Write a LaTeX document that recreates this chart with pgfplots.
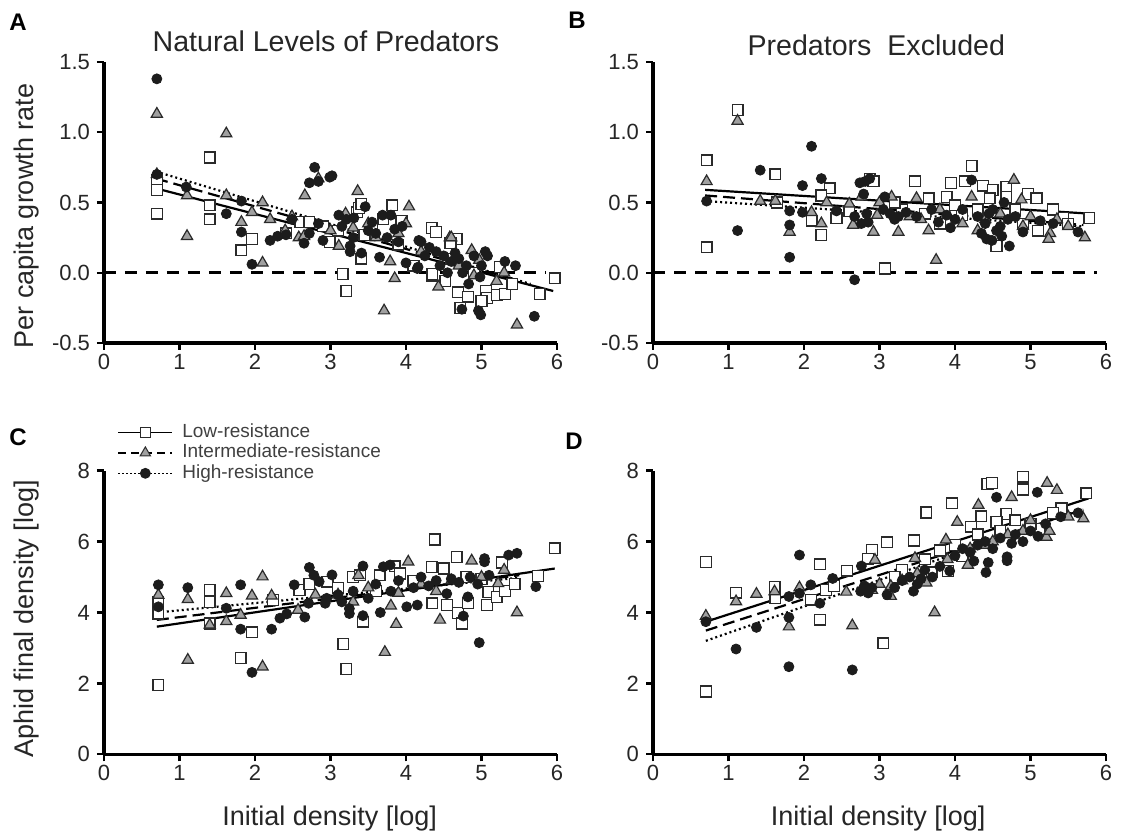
\documentclass[border=0pt]{standalone}
\usepackage{fontspec}
\setmainfont{Liberation Sans}
\usepackage{pgfplots}
\pgfplotsset{compat=1.18}

\definecolor{edge}{HTML}{2A2A2A}
\definecolor{trifill}{HTML}{A0A0A0}
\definecolor{dot}{HTML}{1C1C1C}

\pgfplotsset{
  panel/.style={
    scale only axis, width=226.5pt,
    axis lines=left, axis line style={-, line width=1.6pt},
    tick style={line width=1.2pt, black}, major tick length=3.5pt, tick align=outside,
    xmin=0, xmax=6, xtick={0,...,6},
    tick label style={font=\fontsize{11}{13}\selectfont, text=black!85},
    xticklabel style={yshift=1.5pt},
    /pgf/number format/assume math mode=true,
    label style={font=\fontsize{13.5}{16}\selectfont, text=black!85},
    title style={font=\fontsize{14.3}{17}\selectfont, text=black!85, anchor=base},
    clip=false,
  },
  growth/.style={panel, height=140.5pt, ymin=-0.5, ymax=1.5, ytick={-0.5,0,0.5,1,1.5},
    yticklabel style={/pgf/number format/.cd, fixed, fixed zerofill, precision=1}},
  dens/.style={panel, height=141.8pt, ymin=0, ymax=8, ytick={0,2,4,6,8}},
  lowS/.style={only marks, mark=square*, mark size=2.7pt, mark options={fill=white, draw=edge, line width=0.65pt}},
  intS/.style={only marks, mark=triangle*, mark size=3.2pt, mark options={fill=trifill, draw=edge, line width=0.6pt}},
  highS/.style={only marks, mark=*, mark size=2.5pt, mark options={fill=dot, draw=dot}},
  lowL/.style={black, line width=1.1pt, solid, no marks},
  intL/.style={black, line width=1.1pt, dash pattern=on 6pt off 3pt, no marks},
  highL/.style={black, line width=1.1pt, dash pattern=on 1pt off 1.5pt, no marks},
  zeroL/.style={black, line width=1.4pt, dash pattern=on 6pt off 4.5pt, no marks},
}

\begin{document}
\begin{tikzpicture}
\useasboundingbox (0,0) rectangle (562.5pt,419pt);

% ---------------- A
\begin{axis}[growth, at={(52pt,247.5pt)}, anchor=south west,
  title={Natural Levels of Predators}, title style={at={(axis description cs:0.49,0.996)}},
  ylabel={Per capita growth rate}, ylabel style={at={(axis description cs:-0.17,0.452)}, anchor=center}]
\addplot[zeroL] coordinates {(0,0) (5.85,0)};
\addplot[lowS] coordinates {
(0.70,0.66) (0.70,0.59) (0.70,0.42) (1.40,0.82) (1.40,0.48) (1.40,0.38) (1.82,0.16) (1.96,0.24)
(2.41,0.28) (2.60,0.36) (2.72,0.36) (2.99,0.22) (3.16,-0.01) (3.21,-0.13) (3.35,0.43) (3.38,0.46)
(3.41,0.49) (3.41,0.10) (3.82,0.48) (3.94,0.37) (3.55,0.32) (3.70,0.38) (4.34,0.32) (4.40,0.29)
(4.34,-0.02) (4.52,-0.06) (4.67,0.24) (4.59,0.21) (4.69,-0.14) (4.82,-0.17) (4.72,-0.25) (4.35,-0.01)
(5.06,-0.13) (5.07,-0.18) (5.20,-0.16) (5.31,-0.15) (5.41,-0.08) (5.24,0.04) (5.77,-0.15) (5.97,-0.04)
(4.90,0.00) (4.60,0.10) (3.10,0.30) (3.90,0.20) (3.45,0.27) (4.10,0.05) (5.00,-0.20) (2.90,0.33)};
\addplot[intS] coordinates {
(0.70,1.13) (0.70,0.70) (1.62,0.99) (1.10,0.26) (1.10,0.55) (1.62,0.55) (1.82,0.36) (1.96,0.43)
(2.10,0.07) (2.10,0.50) (2.20,0.38) (2.49,0.40) (2.58,0.25) (2.65,0.26) (2.66,0.55) (2.84,0.67)
(3.36,0.58) (3.11,0.19) (3.79,0.08) (3.85,-0.04) (3.71,-0.27) (4.00,0.35) (4.04,0.47) (4.58,0.25)
(4.43,-0.10) (4.60,0.25) (4.87,0.16) (4.97,0.09) (5.20,-0.06) (5.47,-0.37) (3.30,0.32) (3.50,0.35)
(3.90,0.28) (4.20,0.15) (4.70,0.05) (3.00,0.30) (2.40,0.30) (4.90,-0.02) (5.30,0.00) (3.20,0.42) (3.60,0.25)};
\addplot[highS] coordinates {
(0.70,1.38) (0.70,0.70) (1.09,0.61) (1.62,0.42) (1.82,0.51) (1.82,0.29) (1.96,0.06) (2.20,0.23)
(2.30,0.26) (2.41,0.27) (2.49,0.38) (2.65,0.21) (2.72,0.28) (2.79,0.75) (2.72,0.64) (2.84,0.65)
(2.99,0.68) (3.02,0.69) (2.90,0.23) (2.84,0.35) (3.11,0.41) (3.21,0.38) (3.31,0.39) (3.46,0.47)
(3.69,0.41) (3.80,0.41) (3.26,0.19) (3.26,0.15) (3.41,0.14) (3.65,0.11) (4.00,0.07) (4.16,0.04)
(4.17,0.23) (4.31,0.18) (4.20,0.22) (4.15,0.03) (4.50,0.12) (4.60,0.08) (4.70,0.10) (4.80,0.05)
(4.90,0.12) (5.05,0.15) (5.08,0.12) (5.31,0.08) (5.45,0.05) (4.74,-0.26) (4.96,-0.27) (4.99,-0.30)
(5.70,-0.31) (4.83,-0.08) (4.98,-0.03) (3.50,0.30) (3.60,0.28) (3.75,0.25) (3.90,0.22) (4.40,0.15)
(4.55,0.00) (5.00,0.05) (3.95,0.33) (3.30,0.25) (3.55,0.36) (3.85,0.31) (4.25,0.12) (4.65,0.14)
(3.15,0.33) (4.45,0.05) (4.75,0.00)};
\addplot[lowL] coordinates {(0.69,0.60) (5.95,-0.13)};
\addplot[intL] coordinates {(0.69,0.67) (5.45,-0.05)};
\addplot[highL] coordinates {(0.69,0.72) (5.65,-0.08)};
\end{axis}

% ---------------- B
\begin{axis}[growth, at={(326.5pt,247.5pt)}, anchor=south west,
  title={Predators\ \ Excluded}, title style={at={(axis description cs:0.493,0.979)}}]
\addplot[zeroL] coordinates {(0,0) (5.88,0)};
\addplot[lowS] coordinates {
(1.12,1.16) (0.71,0.80) (0.71,0.18) (1.62,0.70) (1.64,0.50) (2.10,0.37) (2.23,0.27) (2.34,0.60)
(2.23,0.55) (2.43,0.39) (2.60,0.44) (2.87,0.67) (2.92,0.65) (3.47,0.65) (4.22,0.76) (3.95,0.64)
(4.13,0.65) (4.37,0.62) (4.50,0.59) (4.68,0.61) (4.97,0.56) (5.08,0.53) (5.78,0.39) (4.55,0.19)
(3.07,0.03) (3.65,0.53) (3.89,0.54) (4.46,0.53) (4.68,0.54) (3.80,0.35) (4.09,0.41) (5.10,0.30)
(5.43,0.39) (3.30,0.45) (4.30,0.45) (4.80,0.45) (5.30,0.45) (3.60,0.42) (4.00,0.48) (4.90,0.35)
(5.50,0.35) (3.20,0.50)};
\addplot[intS] coordinates {
(1.12,1.08) (0.71,0.65) (1.42,0.51) (1.62,0.51) (1.81,0.29) (2.10,0.43) (2.23,0.35) (2.60,0.49)
(2.65,0.34) (2.76,0.54) (2.92,0.29) (2.97,0.41) (4.78,0.66) (4.88,0.52) (5.72,0.25) (5.26,0.28)
(5.24,0.24) (3.75,0.09) (3.25,0.29) (3.65,0.30) (3.16,0.54) (3.49,0.53) (4.22,0.54) (5.35,0.38)
(3.00,0.50) (3.40,0.40) (3.80,0.45) (4.10,0.35) (4.40,0.38) (4.60,0.42) (4.90,0.33) (5.00,0.40)
(5.50,0.33) (2.30,0.50) (4.30,0.30) (3.55,0.38)};
\addplot[highS] coordinates {
(0.71,0.51) (1.12,0.30) (1.42,0.73) (1.81,0.44) (1.81,0.34) (1.81,0.11) (1.98,0.62) (1.98,0.43)
(2.10,0.90) (2.23,0.67) (2.43,0.44) (2.67,-0.05) (2.67,0.40) (2.74,0.64) (2.81,0.65) (2.87,0.67)
(2.79,0.56) (2.76,0.35) (2.85,0.36) (2.83,0.42) (4.22,0.66) (5.63,0.29) (4.90,0.29) (4.72,0.19)
(4.42,0.24) (4.49,0.23) (3.07,0.54) (3.14,0.42) (3.25,0.40) (3.35,0.43) (3.49,0.40) (3.69,0.45)
(3.89,0.41) (3.94,0.32) (4.30,0.40) (4.40,0.35) (4.50,0.45) (4.60,0.33) (4.70,0.38) (4.80,0.40)
(4.55,0.30) (5.13,0.37) (5.30,0.35) (4.00,0.38) (3.20,0.38) (3.05,0.45) (4.65,0.50) (4.10,0.45)
(4.35,0.28) (4.45,0.42) (4.62,0.26) (3.78,0.36)};
\addplot[lowL] coordinates {(0.69,0.59) (5.80,0.42)};
\addplot[intL] coordinates {(0.69,0.55) (5.70,0.34)};
\addplot[highL] coordinates {(0.69,0.51) (5.70,0.33)};
\end{axis}

% ---------------- C
\begin{axis}[dens, at={(52pt,41.85pt)}, anchor=south west,
  ylabel={Aphid final density [log]}, ylabel style={at={(axis description cs:-0.17,0.477)}, anchor=center},
  xlabel={Initial density [log]}, xlabel style={at={(axis description cs:0.498,-0.225)}, anchor=center},
  legend style={at={(axis description cs:0.029,1.172)}, anchor=north west, draw=none, fill=none,
    inner sep=0pt, font=\fontsize{9.5}{11}\selectfont, text=black!75, column sep=4pt,
    nodes={inner sep=0.6pt, text height=7pt, text depth=2pt}},
  legend cell align=left,
  legend image code/.code={\draw[mark repeat=2, mark phase=2, #1] plot coordinates {(0pt,0pt) (13.5pt,0pt) (27pt,0pt)};}]
\addlegendimage{black, line width=0.8pt, solid, mark=square*, mark size=2.5pt, mark options={solid, fill=white, draw=edge, line width=0.55pt}}
\addlegendentry{Low-resistance}
\addlegendimage{black, line width=0.8pt, dash pattern=on 4pt off 2.5pt, mark=triangle*, mark size=3pt, mark options={solid, fill=trifill, draw=edge, line width=0.5pt}}
\addlegendentry{Intermediate-resistance}
\addlegendimage{black, line width=0.8pt, dash pattern=on 1pt off 1pt, mark=*, mark size=2.3pt, mark options={solid, fill=dot, draw=dot}}
\addlegendentry{High-resistance}
\addplot[lowS, forget plot] coordinates {
(0.72,4.30) (0.72,3.97) (0.72,1.95) (1.40,4.63) (1.40,4.29) (1.40,3.69) (1.81,2.71) (1.96,3.44)
(2.24,4.35) (2.59,4.63) (2.72,4.80) (2.96,4.87) (3.17,3.11) (3.21,2.40) (3.30,5.00) (3.39,5.05)
(3.43,3.74) (3.65,5.05) (3.85,5.30) (3.92,5.10) (4.38,6.06) (4.34,5.29) (4.50,5.24) (4.67,5.57)
(4.35,4.26) (4.54,4.21) (4.69,3.99) (4.74,3.69) (4.82,4.26) (5.07,4.21) (5.09,4.58) (5.20,4.44)
(5.27,5.41) (5.31,4.61) (5.44,4.80) (5.75,5.03) (5.97,5.81) (3.10,4.70) (4.10,4.90) (4.80,5.00)
(5.00,4.95) (3.60,4.60)};
\addplot[intS, forget plot] coordinates {
(0.72,4.49) (1.11,4.37) (1.11,2.66) (1.40,3.65) (1.62,4.54) (1.62,3.75) (1.81,3.93) (1.96,4.47)
(2.10,5.01) (2.10,2.47) (2.22,4.47) (2.57,4.07) (3.37,5.05) (3.72,2.88) (3.80,4.19) (3.87,3.67)
(4.03,5.43) (4.45,3.79) (4.87,5.46) (5.22,4.82) (5.47,4.00) (3.10,4.50) (3.50,4.70) (4.20,4.80)
(4.60,4.90) (5.00,5.00) (2.80,4.50) (3.30,4.30) (4.40,4.60) (5.30,5.20) (3.90,4.55)};
\addplot[highS, forget plot] coordinates {
(0.72,4.78) (0.72,4.16) (1.11,4.70) (1.62,4.12) (1.81,4.78) (1.81,3.53) (1.96,2.31) (2.22,3.53)
(2.33,3.84) (2.42,3.96) (2.52,4.78) (2.66,3.87) (2.71,4.26) (2.72,5.27) (2.78,5.05) (2.85,4.87)
(2.93,4.26) (3.02,5.06) (3.25,3.97) (3.25,4.11) (3.43,3.91) (3.43,5.31) (3.66,4.00) (3.70,5.29)
(3.79,5.34) (4.01,4.16) (4.15,4.21) (4.54,4.53) (4.76,3.90) (4.82,4.44) (4.97,3.15) (5.04,5.52)
(5.04,5.43) (5.36,5.62) (5.47,5.67) (5.72,4.73) (3.10,4.50) (3.30,4.60) (3.50,4.40) (3.60,4.80)
(3.80,4.60) (3.90,4.90) (4.10,4.70) (4.20,5.00) (4.30,4.75) (4.40,4.90) (4.60,4.95) (4.70,4.85)
(4.85,5.00) (4.95,4.80) (5.10,5.05) (3.15,4.30) (2.95,4.40)};
\addplot[lowL, forget plot] coordinates {(0.70,3.60) (5.97,5.24)};
\addplot[intL, forget plot] coordinates {(0.70,3.79) (5.50,5.05)};
\addplot[highL, forget plot] coordinates {(0.70,4.00) (5.50,4.98)};
\end{axis}

% ---------------- D
\begin{axis}[dens, at={(326.5pt,41.85pt)}, anchor=south west,
  xlabel={Initial density [log]}, xlabel style={at={(axis description cs:0.497,-0.225)}, anchor=center}]
\addplot[lowS] coordinates {
(0.70,5.43) (0.70,1.77) (1.10,4.56) (1.61,4.73) (1.62,4.40) (2.09,4.36) (2.21,5.36) (2.21,3.80)
(2.29,4.63) (2.40,4.75) (2.57,5.18) (2.90,5.76) (2.85,5.52) (3.05,3.13) (3.10,5.98) (3.46,6.03)
(3.62,6.82) (3.96,7.08) (4.43,7.62) (4.49,7.65) (4.90,7.83) (4.90,7.47) (5.74,7.36) (4.35,6.71)
(4.68,6.78) (4.55,6.55) (4.21,6.42) (3.91,5.17) (3.69,5.13) (5.12,6.36) (5.41,6.94) (3.30,5.20)
(3.60,5.50) (3.80,5.75) (4.00,5.90) (4.30,6.20) (4.60,6.30) (4.80,6.60) (5.00,6.50) (5.30,6.80)
(3.20,5.00) (4.10,5.60)};
\addplot[intS] coordinates {
(0.70,3.90) (1.10,4.31) (1.37,4.52) (1.61,4.59) (1.80,3.60) (1.94,4.70) (2.56,4.58) (2.64,3.63)
(2.94,5.48) (2.90,4.63) (3.15,4.46) (3.15,4.74) (3.47,5.53) (3.62,4.84) (3.73,4.00) (3.88,6.05)
(4.03,6.55) (4.17,5.34) (4.31,7.03) (4.75,7.25) (5.22,7.65) (5.35,7.45) (5.21,6.13) (5.25,6.30)
(5.70,6.65) (3.30,4.90) (3.50,5.10) (3.90,5.50) (4.20,5.80) (4.50,6.00) (4.70,6.20) (4.90,6.30)
(5.00,6.60) (5.50,6.70) (3.00,4.80) (4.40,5.90)};
\addplot[highS] coordinates {
(0.70,3.74) (1.10,2.97) (1.37,3.58) (1.80,2.47) (1.80,3.86) (1.80,4.45) (1.94,5.62) (1.94,4.54)
(2.09,4.78) (2.21,4.26) (2.38,4.96) (2.64,2.38) (2.76,5.31) (2.75,4.60) (2.80,4.75) (2.85,4.55)
(2.90,4.70) (3.93,5.17) (4.41,5.13) (4.44,5.41) (4.69,5.57) (4.69,5.46) (4.55,7.25) (5.09,7.39)
(5.63,6.81) (3.20,4.70) (3.30,4.90) (3.40,5.00) (3.50,4.80) (3.60,5.20) (3.70,5.00) (3.80,5.30)
(4.00,5.60) (4.10,5.80) (4.20,5.70) (4.30,5.90) (4.40,6.00) (4.50,5.80) (4.60,6.10) (4.80,6.20)
(4.90,6.00) (5.00,6.30) (5.20,6.50) (5.40,6.70) (3.10,4.50) (3.45,4.60) (3.55,4.95) (4.25,5.45)
(4.75,5.95) (5.10,6.15)};
\addplot[lowL] coordinates {(0.70,3.74) (5.77,7.22)};
\addplot[intL] coordinates {(0.70,3.49) (5.70,6.90)};
\addplot[highL] coordinates {(0.70,3.20) (5.60,6.85)};
\end{axis}

\node[font=\bfseries\fontsize{12}{14}\selectfont] at (9pt,408pt) {A};
\node[font=\bfseries\fontsize{12}{14}\selectfont] at (288.5pt,409pt) {B};
\node[font=\bfseries\fontsize{12}{14}\selectfont] at (9pt,200.5pt) {C};
\node[font=\bfseries\fontsize{12}{14}\selectfont] at (287pt,198.5pt) {D};
\end{tikzpicture}
\end{document}
